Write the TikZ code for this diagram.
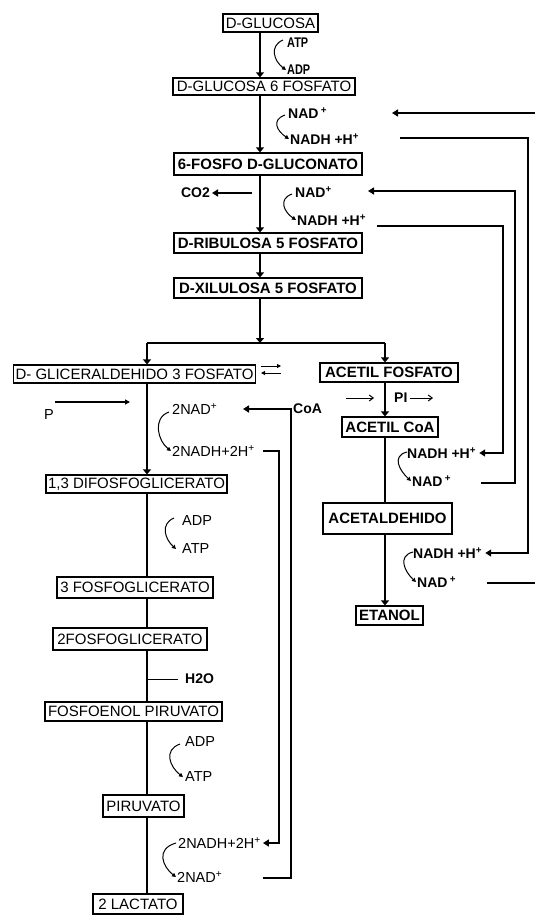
\documentclass[tikz,border=0pt]{standalone}
\usepackage{fontspec}
\usepackage{graphicx}
\setmainfont{Liberation Sans}
\usetikzlibrary{arrows.meta}
\begin{document}
\begin{tikzpicture}[x=1pt,y=-1pt,
  every node/.style={inner sep=0pt},
  bx/.style={draw, line width=1.2pt, inner xsep=2pt, font=\fontsize{15}{17}\selectfont},
  bxb/.style={bx, font=\fontsize{15}{17}\selectfont\bfseries},
  cof/.style={anchor=west, font=\fontsize{14}{16}\selectfont\bfseries},
  cofr/.style={anchor=west, font=\fontsize{14.5}{16}\selectfont},
  ln/.style={line width=1.3pt},
  arr/.style={ln, -{Triangle[length=5pt,width=8pt]}},
  sarr/.style={line width=1.8pt, -{Triangle[length=6pt,width=7pt]}},
  tarr/.style={line width=1.2pt, -{Triangle[length=5pt,width=5pt]}},
  lp/.style={line width=1.8pt},
  hk/.style={line width=1pt, -{Triangle[length=4pt,width=4pt]}},
]
\useasboundingbox (0,0) rectangle (535,915);
\fill[white] (0,0) rectangle (535,915);

% column axes
\coordinate (cx) at (260,0);
\coordinate (lx) at (147,0);
\coordinate (rx) at (385,0);

% ---------- boxes ----------
\node[bx,  minimum width=95pt,  minimum height=18pt] (glc)  at (270.5,23)  {D-GLUCOSA};
\node[bx,  minimum width=182pt, minimum height=17pt] (g6p)  at (264,86.5)  {D-GLUCOSA 6 FOSFATO};
\node[bxb, minimum width=188pt, minimum height=22pt] (pg6)  at (268,164)   {6-FOSFO D-GLUCONATO};
\node[bxb, minimum width=188pt, minimum height=20pt] (ru5p) at (268,243)   {D-RIBULOSA 5 FOSFATO};
\node[bxb, minimum width=188pt, minimum height=20pt] (xu5p) at (268,288)   {D-XILULOSA 5 FOSFATO};
\node[bx,  minimum width=241pt, minimum height=18pt] (gap)  at (134.5,374) {D- GLICERALDEHIDO 3 FOSFATO};
\node[bxb, minimum width=138pt, minimum height=19pt] (acp)  at (389,372.5) {ACETIL FOSFATO};
\node[bxb, minimum width=96pt,  minimum height=20pt] (acoa) at (390,427)   {ACETIL CoA};
\node[bxb, minimum width=129pt, minimum height=31pt] (acald) at (387.5,518.5) {ACETALDEHIDO};
\node[bxb, minimum width=67pt,  minimum height=19pt] (etoh) at (389.5,615.5) {ETANOL};
\node[bx,  minimum width=179pt, minimum height=18pt] (bpg)  at (136.5,484) {1,3 DIFOSFOGLICERATO};
\node[bx,  minimum width=156pt, minimum height=21pt] (pg3)  at (135,587.5) {3 FOSFOGLICERATO};
\node[bx,  minimum width=154pt, minimum height=22pt] (pg2)  at (130,639)   {2FOSFOGLICERATO};
\node[bx,  minimum width=177pt, minimum height=19pt] (pep)  at (133.5,711.5) {FOSFOENOL PIRUVATO};
\node[bx,  minimum width=81pt,  minimum height=22pt] (pyr)  at (143.5,806) {PIRUVATO};
\node[bx,  minimum width=90pt,  minimum height=20pt] (lac)  at (138,904)   {2 LACTATO};

% ---------- cofactor labels ----------
\node[cof] (atp1) at (287,43) {\scalebox{0.78}[1]{ATP}};
\node[cof] (adp1) at (287,70) {\scalebox{0.78}[1]{ADP}};
\node[cof] (nad1) at (288,113) {NAD\,\textsuperscript{+}};
\node[cof] (nadh1) at (290,139) {NADH +H\textsuperscript{+}};
\node[cof] (nad2) at (295,192) {NAD\textsuperscript{+}};
\node[cof] (nadh2) at (297,220) {NADH +H\textsuperscript{+}};
\node[cof, anchor=east] (co2) at (210,193) {CO2};
\node[cofr] (nad3) at (172,409) {2NAD\textsuperscript{+}};
\node[cofr] (nadh3) at (172,451) {2NADH+2H\textsuperscript{+}};
\node[cof] (coa) at (293,409) {CoA};
\node[cofr] (p) at (44,415) {P};
\node[cof] (pi) at (394,398) {PI};
\node[cofr] (adp2) at (182,521) {ADP};
\node[cofr] (atp2) at (182,549) {ATP};
\node[cof] (h2o) at (185,679) {H2O};
\node[cofr] (adp3) at (185,742) {ADP};
\node[cofr] (atp3) at (185,777) {ATP};
\node[cofr] (nadh4) at (178,843) {2NADH+2H\textsuperscript{+}};
\node[cofr] (nad4) at (177,877) {2NAD\textsuperscript{+}};
\node[cof] (nadh5) at (407,453) {NADH +H\textsuperscript{+}};
\node[cof] (nad5) at (412,481) {NAD\,\textsuperscript{+}};
\node[cof] (nadh6) at (413,553) {NADH +H\textsuperscript{+}};
\node[cof] (nad6) at (417,582) {NAD\,\textsuperscript{+}};

% ---------- main flow ----------
\draw[arr] (glc.south -| cx) -- (g6p.north -| cx);
\draw[arr] (g6p.south -| cx) -- (pg6.north -| cx);
\draw[arr] (pg6.south -| cx) -- (ru5p.north -| cx);
\draw[arr] (ru5p.south -| cx) -- (xu5p.north -| cx);
\coordinate (br) at (260,343);
\coordinate (brl) at (147,343);
\coordinate (brr) at (385,343);
\draw[arr] (xu5p.south -| cx) -- (br);
\draw[ln] (brl) -- (brr);
\draw[arr] (brl) -- (gap.north -| lx);
\draw[arr] (brr) -- (acp.north -| rx);
\draw[arr] (gap.south -| lx) -- (bpg.north -| lx);
\draw[ln] (bpg.south -| lx) -- (pg3.north -| lx);
\draw[ln] (pg3.south -| lx) -- (pg2.north -| lx);
\draw[ln] (pg2.south -| lx) -- (pep.north -| lx);
\draw[ln] (pep.south -| lx) -- (pyr.north -| lx);
\draw[ln] (pyr.south -| lx) -- (lac.north -| lx);
\draw[arr] (acp.south -| rx) -- (acoa.north -| rx);
\draw[ln] (acoa.south -| rx) -- (acald.north -| rx);
\draw[arr] (acald.south -| rx) -- (etoh.north -| rx);

% ---------- hooks ----------
\draw[hk] ([shift={(-4,-3)}]atp1.west) .. controls +(-14,6) and +(-12,-9) .. ([xshift=-1]adp1.west);
\draw[hk] ([shift={(-3,2)}]nad1.west) .. controls +(-14,5) and +(-12,-8) .. ([xshift=-1]nadh1.west);
\draw[hk] ([shift={(-3,2)}]nad2.west) .. controls +(-14,5) and +(-12,-8) .. ([xshift=-1]nadh2.west);
\draw[hk] ([shift={(-3,3)}]nad3.west) .. controls +(-17,6) and +(-13,-10) .. ([xshift=-1]nadh3.west);
\draw[hk] ([shift={(-8,-3)}]adp2.west) .. controls +(-14,6) and +(-11,-10) .. ([xshift=-6]atp2.west);
\draw[hk] ([shift={(-5,2)}]adp3.west) .. controls +(-17,6) and +(-13,-10) .. ([xshift=-2]atp3.west);
\draw[hk] ([shift={(-2,0)}]nadh4.west) .. controls +(-21,6) and +(-13,-10) .. ([xshift=-1]nad4.west);
\draw[hk] ([shift={(0,-1)}]nadh5.west) .. controls +(-16,4) and +(-11,-10) .. ([xshift=-1]nad5.west);
\draw[hk] ([shift={(0,-1)}]nadh6.west) .. controls +(-16,4) and +(-11,-10) .. ([xshift=-1]nad6.west);

% ---------- side arrows ----------
\coordinate (co2s) at (252,193);
\draw[sarr] (co2s) -- ([xshift=2]co2.east);
\coordinate (ps) at (55,402);
\coordinate (pe) at (130,402);
\draw[tarr] (ps) -- (pe);
\coordinate (a1s) at (346,398);
\coordinate (a1e) at (374,398);
\draw[line width=1pt, -{Straight Barb[length=4pt,width=6pt]}] (a1s) -- (a1e);
\coordinate (a2e) at (433,398);
\draw[line width=1pt, -{Straight Barb[length=4pt,width=6pt]}] ([xshift=2]pi.east) -- (a2e);
% equilibrium sign
\coordinate (eq1) at (261,366);
\coordinate (eq2) at (281,366);
\coordinate (eq3) at (281,373);
\coordinate (eq4) at (261,373);
\draw[line width=1pt, -{Triangle[length=4pt,width=4pt]}] (eq1) -- (eq2);
\draw[line width=1pt, -{Triangle[length=4pt,width=4pt]}] (eq3) -- (eq4);
% H2O tick
\coordinate (hw) at (148,679);
\draw[line width=1pt] (hw) -- ([xshift=-7]h2o.west);

% ---------- recycling loops ----------
\coordinate (t1s) at (535,113);
\coordinate (t1e) at (392,113);
\draw[sarr] (t1s) -- (t1e);

\coordinate (l1a) at (400,138);
\coordinate (l1b) at (528,138);
\coordinate (l1c) at (528,553);
\draw[sarr] (l1a) -- (l1b) -- (l1c) -- ([xshift=3]nadh6.east |- l1c);

\coordinate (l2a) at (515,483);
\coordinate (l2b) at (515,191);
\coordinate (l2e) at (368,191);
\draw[sarr] ([xshift=30]nad5.east |- l2a) -- (l2a) -- (l2b) -- (l2e);

\coordinate (l3a) at (377,226);
\coordinate (l3b) at (503,226);
\coordinate (l3c) at (503,453);
\draw[sarr] (l3a) -- (l3b) -- (l3c) -- ([xshift=3]nadh5.east |- l3c);

\coordinate (st) at (535,583);
\draw[lp] ([xshift=31]nad6.east |- st) -- (st);

\coordinate (l4a) at (279,451);
\coordinate (l4b) at (279,843);
\draw[sarr] ([xshift=8]nadh3.east |- l4a) -- (l4a) -- (l4b) -- ([xshift=2]nadh4.east |- l4b);

\coordinate (l5a) at (291,878);
\coordinate (l5b) at (291,409);
\coordinate (l5e) at (243,409);
\draw[sarr] ([xshift=40]nad4.east |- l5a) -- (l5a) -- (l5b) -- (l5e);
\end{tikzpicture}
\end{document}
